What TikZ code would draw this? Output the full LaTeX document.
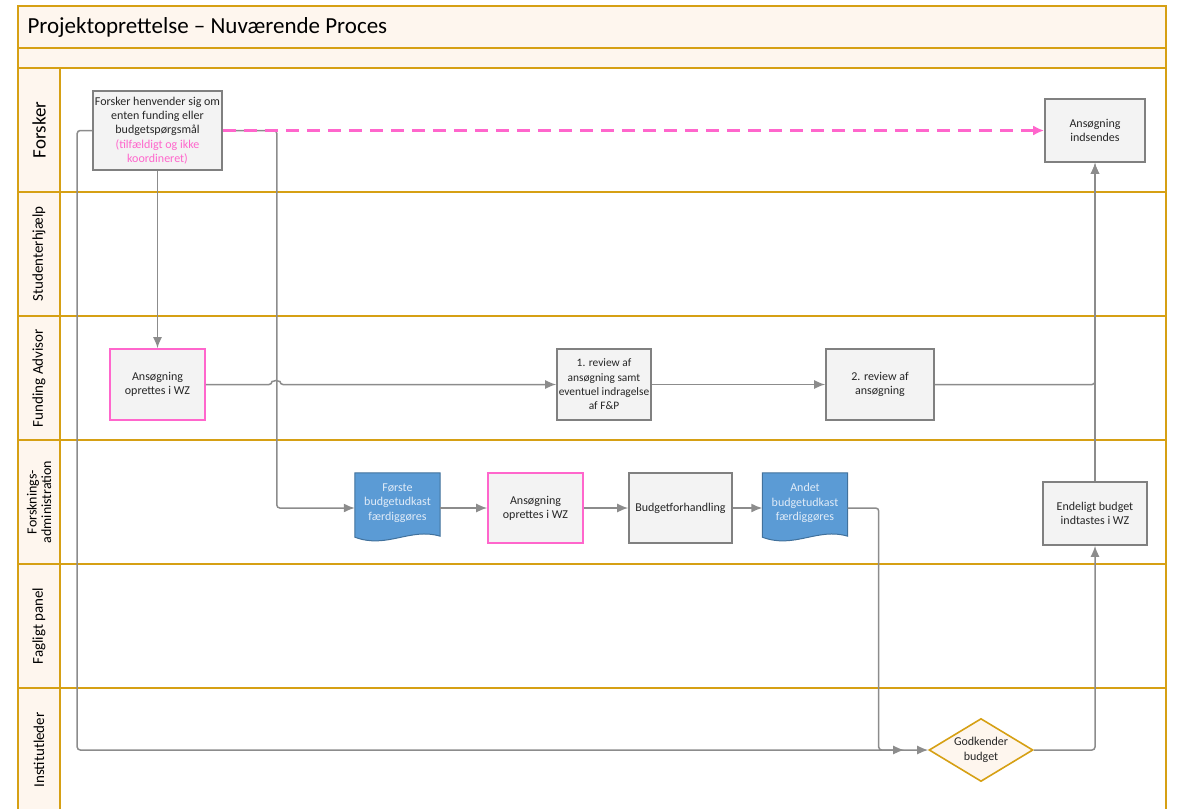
\documentclass[tikz,border=0pt]{standalone}
\usepackage{fontspec}
\setmainfont{Carlito}
\usetikzlibrary{shapes.geometric, arrows.meta, positioning, calc, backgrounds}
\definecolor{lanegold}{RGB}{214,160,20}
\definecolor{lanefill}{RGB}{254,246,238}
\definecolor{boxgray}{RGB}{243,243,243}
\definecolor{edgegray}{RGB}{128,128,128}
\definecolor{linegray}{RGB}{140,140,140}
\definecolor{wzpink}{RGB}{255,102,204}
\definecolor{docblue}{RGB}{91,155,213}
\definecolor{docedge}{RGB}{65,113,156}
\definecolor{doctext}{RGB}{225,236,248}
\newcommand{\boxfont}{\fontsize{12}{14.3}\selectfont}
\tikzstyle{task} = [rectangle, draw=edgegray, line width=1.6pt, fill=boxgray, align=center, text=black!85, font=\boxfont, inner sep=1pt]
\tikzstyle{wztask} = [task, draw=wzpink]
\tikzstyle{docbox} = [rectangle, align=center, text=doctext, font=\boxfont, minimum width=85pt, minimum height=70pt, inner sep=0pt]
\tikzstyle{decision} = [diamond, draw=lanegold, line width=1.6pt, fill=lanefill, align=center, text=black!85, font=\boxfont, aspect=1.65, inner sep=0pt, minimum width=104pt, minimum height=63pt]
\tikzstyle{lanelabel} = [rotate=90, align=center, font=\fontsize{15}{15}\selectfont]
\tikzstyle{line} = [draw=linegray, line width=1.5pt, rounded corners=3pt, -{Latex[length=11pt,width=9pt]}]
\tikzstyle{pinkline} = [draw=wzpink, line width=2.6pt, dash pattern=on 13pt off 8pt, -{Latex[length=11pt,width=10pt]}]
% wavy bottom for the document boxes
\newcommand{\docwave}[1]{%
  \begin{pgfonlayer}{background}
    \filldraw[fill=docblue, draw=docedge, line width=1pt] (#1.north west) -- (#1.north east) -- ($(#1.south east)+(0,-7)$)
      .. controls ($(#1.south east)+(-30,-16)$) and ($(#1.south west)+(32,6)$) .. ($(#1.south west)+(0,-6)$) -- cycle;
  \end{pgfonlayer}}

\begin{document}
\begin{tikzpicture}[x=1pt, y=-1pt]
  \useasboundingbox (0,0) rectangle (1179,809);

  % swimlane frame
  \fill[lanefill] (18,6) rectangle (1166,68);
  \fill[lanefill] (18,68) rectangle (60,809);
  \draw[lanegold, line width=2pt] (18,809) -- (18,6) -- (1166,6) -- (1166,809);
  \foreach \y in {48,68,192,316,440,564,688}
    \draw[lanegold, line width=2pt] (18,\y) -- (1166,\y);
  \draw[lanegold, line width=2pt] (60,68) -- (60,809);

  \node[anchor=west, font=\fontsize{23}{26}\selectfont] (title) at (24,27) {Projektoprettelse -- Nuværende Proces};

  \node[lanelabel, font=\fontsize{19}{20}\selectfont] (lForsker) at (39,130) {Forsker};
  \node[lanelabel] (lStud) at (39,254) {Studenterhjælp};
  \node[lanelabel] (lFunding) at (39,378) {Funding Advisor};
  \node[lanelabel, font=\fontsize{14}{14.5}\selectfont] (lAdmin) at (39,502) {Forsknings-\\administration};
  \node[lanelabel] (lPanel) at (39,626) {Fagligt panel};
  \node[lanelabel] (lLeder) at (39,750) {Institutleder};

  % Forsker
  \node (henvend) [task, minimum width=129pt, minimum height=79pt] at (157.5,130.5) {Forsker henvender sig om\\enten funding eller\\budgetspørgsmål\\\textcolor{wzpink}{(tilfældigt og ikke}\\\textcolor{wzpink}{koordineret)}};
  \node (indsendes) [task, minimum width=100pt, minimum height=63pt] at (1095,130.5) {Ansøgning\\indsendes};

  % Funding Advisor
  \node (opretFA) [wztask, minimum width=95pt, minimum height=71pt] at (157.5,384.5) {Ansøgning\\oprettes i WZ};
  \node (review1) [task, minimum width=94pt, minimum height=71pt, font=\fontsize{11.4}{14.3}\selectfont] at (604,384.5) {1. review af\\ansøgning samt\\eventuel indragelse\\af F\&P};
  \node (review2) [task, minimum width=108pt, minimum height=71pt] at (880,384.5) {2. review af\\ansøgning};

  % Forskningsadministration
  \node (forste) [docbox] at (397.5,508) {Første\\budgetudkast\\færdiggøres\\[-2pt]};
  \docwave{forste}
  \node (opretFoA) [wztask, minimum width=95pt, minimum height=70pt] at (535.5,508) {Ansøgning\\oprettes i WZ};
  \node (forhandling) [task, minimum width=103pt, minimum height=70pt] at (680.5,508) {Budgetforhandling};
  \node (andet) [docbox] at (805,508) {Andet\\budgetudkast\\færdiggøres\\[-2pt]};
  \docwave{andet}
  \node (endeligt) [task, minimum width=104pt, minimum height=63pt] at (1095,513.5) {Endeligt budget\\indtastes i WZ};

  % Institutleder
  \node (godkend) [decision] at (981,750) {Godkender\\budget};

  % connectors
  \path [line] (henvend) -- (opretFA);
  \path [line] (henvend.east) -- ++(54,0) |- (forste.west);
  \path [line, shorten >=24pt] (henvend.west) -- ++(-15,0) |- (godkend.west);
  \path [line] (opretFA.east) -- (272,384.5) arc[start angle=180, end angle=360, radius=4] -- (review1.west);
  \path [line] (review1) -- (review2);
  \path [line] (review2.east) -| (indsendes.south);
  \path [line] (forste) -- (opretFoA);
  \path [line] (opretFoA) -- (forhandling);
  \path [line] (forhandling) -- (andet);
  \path [line] (andet.east) -- ++(31,0) |- (godkend.west);
  \path [line] (godkend.east) -| (endeligt.south);
  \path [line] (endeligt) -- (indsendes);
  \path [pinkline] (henvend) -- (indsendes);
\end{tikzpicture}
\end{document}
